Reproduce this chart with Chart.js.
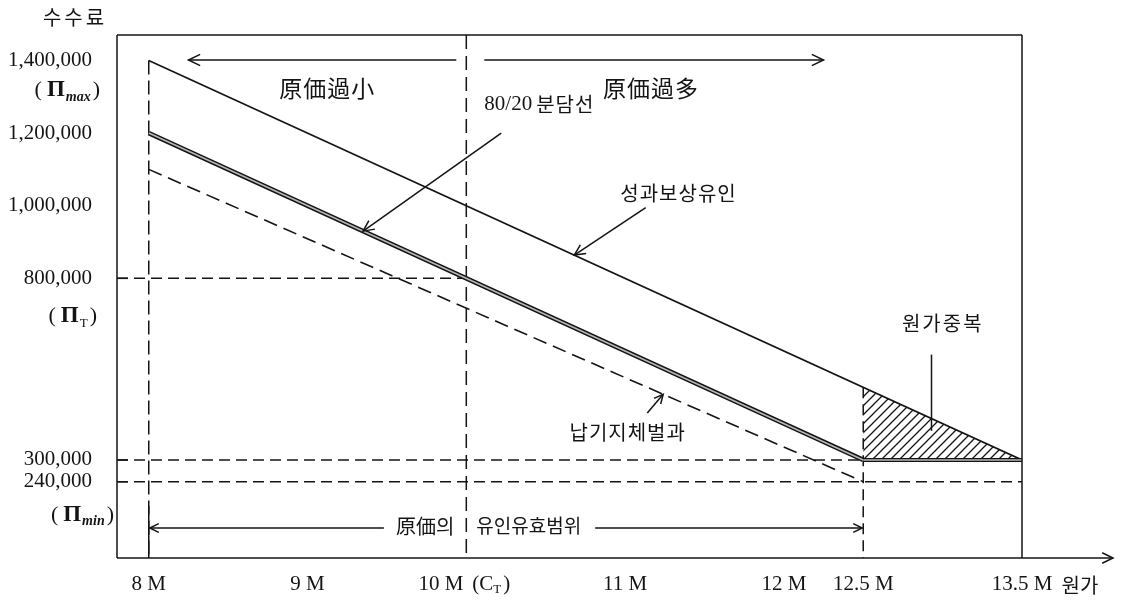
<!DOCTYPE html>
<html lang="ko">
<head>
<meta charset="utf-8">
<title>원가와 수수료</title>
<script src="https://cdn.jsdelivr.net/npm/chart.js@4.4.1/dist/chart.umd.min.js"></script>
<style>
  html, body { margin: 0; padding: 0; background: #fff; }
  canvas { display: block; }
</style>
</head>
<body>
<canvas id="feeChart" width="1137" height="601"></canvas>
<script>
// 원가 축 (백만원)
const costTicks = [8, 9, 10, 11, 12, 12.5, 13.5];
const costLabels = ['8 M', '9 M', '10 M', '11 M', '12 M', '12.5 M', '13.5 M'];
// 수수료 축
const feeTicks = [1400000, 1200000, 1000000, 800000, 300000, 240000];
const feeLabels = ['1,400,000', '1,200,000', '1,000,000', '800,000', '300,000', '240,000'];

// 성과보상유인
const incentiveCost = [8, 13.5];
const incentiveFee = [1400000, 300000];
// 80/20 분담선
const shareCost = [8, 12.5];
const shareFee = [1200000, 300000];
// 납기지체벌과
const penaltyCost = [8, 12.5];
const penaltyFee = [1100000, 240000];
// 최저 수수료 구간
const floorCost = [12.5, 13.5];
const floorFee = [300000, 300000];
// 원가중복 (빗금 영역)
const overlapCost = [12.5, 13.5];
const overlapFee = [500000, 300000];

const targetCost = 10;     // C_T
const targetFee = 800000;  // Π_T
const maxFee = 1400000;    // Π_max
const minFee = 240000;     // Π_min
const floorValue = 300000;
const rangeStart = 8, rangeEnd = 12.5;

const ink = '#141414';
const serif = '"Liberation Serif", "DejaVu Serif", serif';
const kr = '"Noto Sans CJK KR", "Noto Sans", sans-serif';

const pts = (xs, ys) => xs.map((x, i) => ({ x: x, y: ys[i] }));

// 빗금 패턴
function hatch() {
    const c = document.createElement('canvas');
    c.width = 9; c.height = 9;
    const g = c.getContext('2d');
    g.strokeStyle = ink;
    g.lineWidth = 1.3;
    g.beginPath();
    g.moveTo(-1, 10); g.lineTo(10, -1);
    g.moveTo(-1, 1); g.lineTo(1, -1);
    g.moveTo(8, 10); g.lineTo(10, 8);
    g.stroke();
    return g.createPattern(c, 'repeat');
}

function line(c, x1, y1, x2, y2, dash) {
    c.save();
    c.strokeStyle = ink;
    c.lineWidth = 1.5;
    c.setLineDash(dash || []);
    c.beginPath();
    c.moveTo(x1, y1);
    c.lineTo(x2, y2);
    c.stroke();
    c.restore();
}

function arrow(c, x1, y1, x2, y2, len) {
    len = len || 11;
    line(c, x1, y1, x2, y2);
    const a = Math.atan2(y2 - y1, x2 - x1);
    c.save();
    c.strokeStyle = ink;
    c.lineWidth = 1.5;
    c.beginPath();
    c.moveTo(x2 - len * Math.cos(a - 0.45), y2 - len * Math.sin(a - 0.45));
    c.lineTo(x2, y2);
    c.lineTo(x2 - len * Math.cos(a + 0.45), y2 - len * Math.sin(a + 0.45));
    c.stroke();
    c.restore();
}

function text(c, s, x, y, font, align, spacing) {
    c.save();
    c.font = font;
    c.fillStyle = ink;
    c.textAlign = align || 'left';
    c.textBaseline = 'middle';
    if (spacing) c.letterSpacing = spacing;
    c.fillText(s, x, y);
    const w = c.measureText(s).width;
    c.restore();
    return w;
}

// (Π 첨자) 같은 기호 라벨
function symbolLabel(c, xRight, y, main, sub, italicSub) {
    const parts = [
        { t: '(', f: '22px ' + serif, dy: 0, gap: 5 },
        { t: main, f: 'bold 23px ' + serif, dy: 0, gap: 1 },
        { t: sub, f: (italicSub ? 'italic bold 14px ' : '13px ') + serif, dy: 7, gap: 2 },
        { t: ')', f: '22px ' + serif, dy: 0, gap: 0 }
    ];
    c.save();
    let total = 0;
    parts.forEach(p => { c.font = p.f; p.w = c.measureText(p.t).width; total += p.w + p.gap; });
    let x = xRight - total;
    c.fillStyle = ink;
    c.textBaseline = 'middle';
    parts.forEach(p => {
        c.font = p.f;
        c.fillText(p.t, x, y + p.dy);
        x += p.w + p.gap;
    });
    c.restore();
}

const guides = {
    id: 'guides',
    beforeDatasetsDraw(chart) {
        const c = chart.ctx, a = chart.chartArea;
        const X = v => chart.scales.x.getPixelForValue(v);
        const Y = v => chart.scales.y.getPixelForValue(v);
        const d = [11, 6];
        line(c, X(rangeStart), Y(maxFee), X(rangeStart), a.bottom, [14, 6]);
        line(c, X(targetCost), a.top, X(targetCost), a.bottom, [14, 7]);
        line(c, X(rangeEnd), Y(overlapFee[0]), X(rangeEnd), a.bottom, [11, 6]);
        line(c, a.left, Y(targetFee), X(targetCost), Y(targetFee), d);
        line(c, a.left, Y(floorValue), X(rangeEnd), Y(floorValue), d);
        line(c, a.left, Y(minFee), a.right, Y(minFee), d);
        [targetFee, floorValue, minFee].forEach(v => line(c, a.left, Y(v), a.left + 11, Y(v)));
    },
    afterDatasetsDraw(chart) {
        const c = chart.ctx, a = chart.chartArea;
        const X = v => chart.scales.x.getPixelForValue(v);
        const Y = v => chart.scales.y.getPixelForValue(v);

        // 틀과 축
        line(c, a.left, a.top, a.left, a.bottom);
        line(c, a.left, a.top, a.right, a.top);
        line(c, a.right, a.top, a.right, a.bottom);
        arrow(c, a.left, a.bottom, a.right + 91, a.bottom, 12);

        // 축 제목
        text(c, '수수료', 75, 17, '20px ' + kr, 'center', '3px');
        text(c, '원가', a.right + 58, a.bottom + 27, '20px ' + kr, 'center');

        // y 눈금 라벨
        feeTicks.forEach((v, i) => text(c, feeLabels[i], a.left - 25, Y(v), '21px ' + serif, 'right'));
        symbolLabel(c, a.left - 17, Y(maxFee) + 30, 'Π', 'max', true);
        symbolLabel(c, a.left - 20, Y(targetFee) + 38, 'Π', 'T', false);
        symbolLabel(c, a.left - 3, Y(minFee) + 33, 'Π', 'min', true);

        // x 눈금 라벨
        const ly = a.bottom + 26;
        costTicks.forEach((v, i) => {
            if (v === targetCost) {
                text(c, costLabels[i], X(v) - 3, ly, '21px ' + serif, 'right');
                const w = text(c, '(C', X(v) + 6, ly, '21px ' + serif, 'left');
                const w2 = text(c, 'T', X(v) + 6 + w, ly + 6, '13px ' + serif, 'left');
                text(c, ')', X(v) + 8 + w + w2, ly, '21px ' + serif, 'left');
            } else {
                text(c, costLabels[i], X(v), ly, '21px ' + serif, 'center');
            }
        });

        // 원가과소 / 원가과다
        const ty = a.top + 25;
        arrow(c, X(targetCost) - 10, ty, X(8.25), ty, 13);
        arrow(c, X(targetCost) + 18, ty, X(12.25), ty, 13);
        text(c, '原価過小', (X(8.25) + X(targetCost)) / 2, a.top + 53, '23px ' + kr, 'center', '1px');
        text(c, '原価過多', (X(12.25) + X(targetCost)) / 2 + 6, a.top + 53, '23px ' + kr, 'center', '1px');

        // 원가의 유인유효범위
        const by = a.bottom - 30;
        const w1 = text(c, '原価의', X(targetCost) - 12, by - 2, '20px ' + kr, 'right');
        const w2 = text(c, '유인유효범위', X(targetCost) + 10, by - 2, '19px ' + kr, 'left');
        arrow(c, X(targetCost) - 24 - w1, by, X(rangeStart) + 1, by, 10);
        arrow(c, X(targetCost) + 24 + w2, by, X(rangeEnd) - 1, by, 10);
        line(c, X(rangeStart), by - 22, X(rangeStart), a.bottom);

        // 선 이름과 화살표
        const w80 = text(c, '80/20', X(targetCost) + 18, Y(1280000), '21px ' + serif, 'left');
        text(c, '분담선', X(targetCost) + 22 + w80, Y(1280000), '20px ' + kr, 'left', '1px');
        arrow(c, X(10.22), Y(1200000), X(9.35), Y(1200000 - 200000 * 1.35), 12);

        text(c, '성과보상유인', X(10.97), Y(1035000), '20px ' + kr, 'left', '1px');
        arrow(c, X(11.13), Y(995000), X(10.68), Y(1400000 - 200000 * 2.68), 12);

        text(c, '납기지체벌과', X(10.65), Y(377000), '20px ' + kr, 'left', '1px');
        arrow(c, X(11.14), Y(429000), X(11.24), Y(1100000 - 860000 * 3.24 / 4.5), 10);

        text(c, '원가중복', X(12.744), Y(677000), '20px ' + kr, 'left', '2px');
        line(c, X(12.93), Y(590000), X(12.93), Y(380000));
    }
};

const ctx = document.getElementById('feeChart').getContext('2d');
new Chart(ctx, {
    type: 'line',
    data: {
        datasets: [
            { label: '80/20 분담선', data: pts(shareCost, shareFee), borderColor: '#b8b8b8', borderWidth: 1.6 },
            { label: '80/20 분담선', data: pts(shareCost, shareFee), borderColor: ink, borderWidth: 4.6 },
            { label: '최저', data: pts(floorCost, floorFee), borderColor: '#b8b8b8', borderWidth: 1.4 },
            { label: '최저', data: pts(floorCost, floorFee), borderColor: ink, borderWidth: 4 },
            { label: '성과보상유인', data: pts(incentiveCost, incentiveFee), borderColor: ink, borderWidth: 1.6 },
            { label: '납기지체벌과', data: pts(penaltyCost, penaltyFee), borderColor: ink, borderWidth: 1.6, borderDash: [14, 7] },
            { label: '원가중복', data: pts(overlapCost, overlapFee), borderWidth: 0, borderColor: 'rgba(0,0,0,0)',
              backgroundColor: hatch(), fill: { value: floorValue } }
        ]
    },
    options: {
        responsive: false,
        animation: false,
        layout: { padding: { left: 117, top: 35, right: 115, bottom: 43 } },
        elements: { point: { radius: 0 }, line: { tension: 0 } },
        plugins: {
            legend: { display: false },
            tooltip: { enabled: false }
        },
        scales: {
            x: { type: 'linear', min: 7.8, max: 13.5, display: false },
            y: { type: 'linear', min: 30000, max: 1470000, display: false }
        }
    },
    plugins: [guides]
});
</script>
</body>
</html>
